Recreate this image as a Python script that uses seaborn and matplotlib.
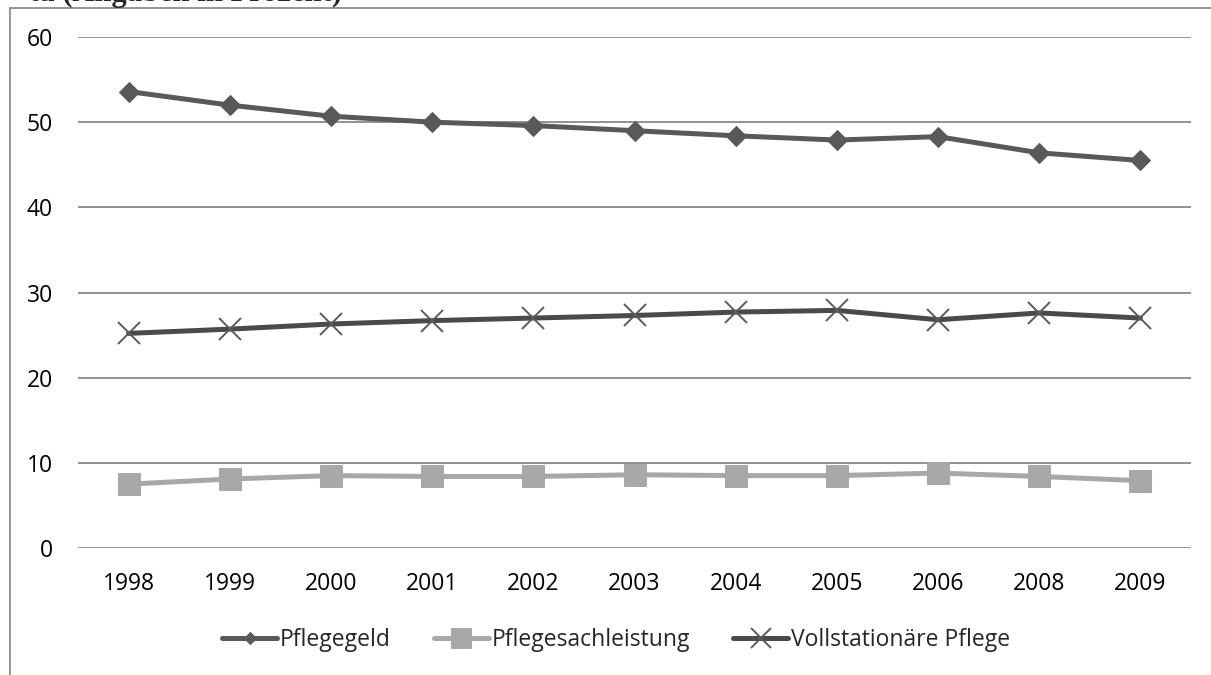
import numpy as np
import pandas as pd
import matplotlib
matplotlib.use("Agg")
import matplotlib.pyplot as plt
from matplotlib.lines import Line2D
import seaborn as sns

# =========================
# Data (Angaben in Prozent)
# =========================
years = ['1998', '1999', '2000', '2001', '2002', '2003', '2004', '2005', '2006', '2008', '2009']
pflegegeld = [53.6, 52.0, 50.7, 50.0, 49.6, 49.0, 48.4, 47.9, 48.3, 46.4, 45.5]
pflegesach = [7.5, 8.1, 8.5, 8.4, 8.4, 8.6, 8.5, 8.5, 8.8, 8.4, 7.9]
vollstationaer = [25.2, 25.7, 26.3, 26.7, 27.0, 27.3, 27.7, 27.9, 26.8, 27.6, 27.0]

series_names = ['Pflegegeld', 'Pflegesachleistung', 'Vollstationäre Pflege']

df = pd.DataFrame({
    'pos': list(range(len(years))) * 3,
    'value': pflegegeld + pflegesach + vollstationaer,
    'series': np.repeat(series_names, len(years)),
})

sns.set_theme(style="white")
plt.rcParams['font.family'] = ['Open Sans', 'DejaVu Sans']

W, H = 1211, 675
fig = plt.figure(figsize=(W / 100, H / 100), dpi=100)
ax = fig.add_axes([78 / W, 1 - 548 / H, (1191 - 78) / W, (548 - 37) / H])

styles = {
    'Pflegegeld': dict(color='#595959', marker='D', markersize=10.5, lw=3.6,
                       markeredgecolor='#595959'),
    'Pflegesachleistung': dict(color='#a8a8a8', marker='s', markersize=15.5, lw=3.6,
                               markeredgecolor='#a8a8a8'),
    'Vollstationäre Pflege': dict(color='#4a4a4a', marker='x', markersize=15.5, lw=3.6,
                                  markeredgewidth=1.4, markeredgecolor='#5a5a5a'),
}

for name in series_names:
    sub = df[df['series'] == name]
    sns.lineplot(data=sub, x='pos', y='value', ax=ax, label=name,
                 **styles[name])

ax.set_xlim(-0.5, len(years) - 0.5)
ax.set_ylim(0, 60)
ax.set_yticks(range(0, 61, 10))
ax.set_xticks(range(len(years)))
ax.set_xticklabels(years)
ax.set_xlabel('')
ax.set_ylabel('')
ax.grid(axis='y', color='#898989', lw=1.3)
ax.grid(axis='x', visible=False)
ax.set_axisbelow(True)
for s in ax.spines.values():
    s.set_visible(False)
ax.tick_params(axis='y', length=0, pad=18, labelsize=16.5, labelcolor='black')
ax.tick_params(axis='x', length=0, pad=17, labelsize=16.5, labelcolor='black')

leg = ax.legend(loc='center', bbox_to_anchor=(616 / W, 1 - 640 / H),
                bbox_transform=fig.transFigure, ncol=3, frameon=False,
                fontsize=16.5, handlelength=2.4, handletextpad=0.1,
                columnspacing=1.9)
leg.legend_handles[0].set_markersize(6.5)
leg.legend_handles[1].set_markersize(14)
leg.legend_handles[2].set_markersize(15)

# chart frame (Excel-style border, partly cut off)
fig.add_artist(Line2D([9.5 / W, 9.5 / W], [0, 1 - 8 / H], transform=fig.transFigure,
                      color='#8c8c8c', lw=1.3))
fig.add_artist(Line2D([9.5 / W, 1], [1 - 8 / H, 1 - 8 / H], transform=fig.transFigure,
                      color='#8c8c8c', lw=1.3))

# caption from the page above, cut off by the top edge as in the scan
fig.text(29 / W, 1 - 0.5 / H, 'ta (Angaben in Prozent)', family='Liberation Serif',
         fontweight='bold', fontsize=22, va='baseline', ha='left')

fig.savefig('out.png', dpi=100)
